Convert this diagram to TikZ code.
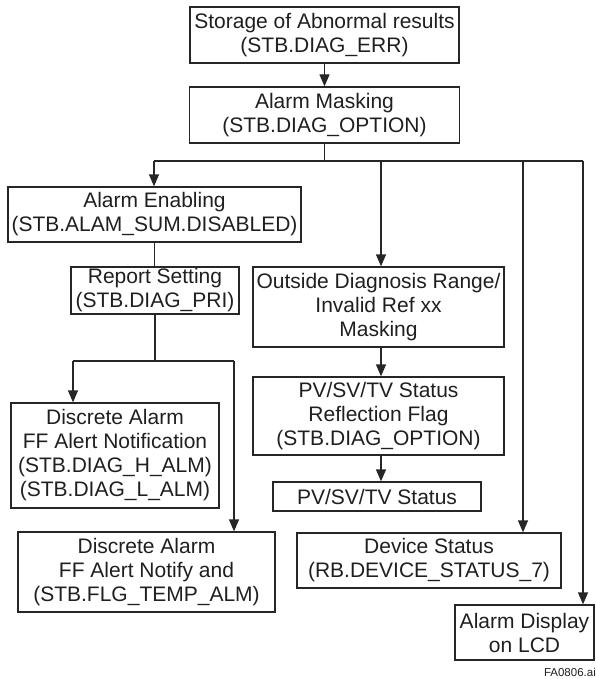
\documentclass[tikz,border=0pt]{standalone}
\usepackage{fontspec}
\setmainfont{Liberation Sans}
\usetikzlibrary{arrows.meta}

\tikzset{
  box/.style={draw=black!85,line width=1.3pt,text=black!88,inner sep=0pt,align=center,
    font=\fontsize{21}{24}\selectfont},
  link/.style={draw=black!85,line width=1.3pt}
}

\begin{document}
\begin{tikzpicture}[x=1pt,y=-1pt,>={Triangle[length=12pt,width=10pt]}]
  \useasboundingbox (0,0) rectangle (596,679);
  % upper chain
  \node[box,minimum width=269pt,minimum height=56pt] (store) at (324.5,35)
    {Storage of Abnormal results\\(STB.DIAG\_ERR)};
  \node[box,minimum width=270pt,minimum height=56pt] (mask) at (324.5,115)
    {Alarm Masking\\(STB.DIAG\_OPTION)};
  % left branch
  \node[box,minimum width=293pt,minimum height=55pt] (enable) at (154.5,214.5)
    {Alarm Enabling\\(STB.ALAM\_SUM.DISABLED)};
  \node[box,minimum width=168pt,minimum height=47pt] (report) at (155,290.5)
    {Report Setting\\(STB.DIAG\_PRI)};
  \node[box,minimum width=208pt,minimum height=105pt] (notif) at (115,455.5)
    {Discrete Alarm\\FF Alert Notification\\(STB.DIAG\_H\_ALM)\\(STB.DIAG\_L\_ALM)};
  \node[box,minimum width=257pt,minimum height=80pt] (notify) at (146.5,572)
    {Discrete Alarm\\FF Alert Notify and\\(STB.FLG\_TEMP\_ALM)};
  % middle branch
  \node[box,minimum width=251pt,minimum height=80pt] (range) at (378.5,307)
    {Outside Diagnosis Range/\\Invalid Ref xx\\Masking};
  \node[box,minimum width=251pt,minimum height=78pt] (reflect) at (378.5,416)
    {PV/SV/TV Status\\Reflection Flag\\(STB.DIAG\_OPTION)};
  \node[box,minimum width=208pt,minimum height=29pt] (pvstat) at (377,496.5)
    {PV/SV/TV Status};
  % right branches
  \node[box,minimum width=264pt,minimum height=55pt] (device) at (429,560.5)
    {Device Status\\(RB.DEVICE\_STATUS\_7)};
  \node[box,minimum width=139pt,minimum height=55pt] (lcd) at (524.5,632.5)
    {Alarm Display\\on LCD};
  \node[anchor=east,inner sep=0pt,text=black!88,font=\fontsize{11.5}{13}\selectfont] (tag) at (596,672)
    {FA0806.ai};

  \coordinate (busL) at (154,161);
  \coordinate (busR) at (583,161);
  \coordinate (tapM) at (381,161);
  \coordinate (tapD) at (523,161);
  \coordinate (forkL) at (73,361);
  \coordinate (forkR) at (234,361);

  \draw[link,->] (store) -- (mask);
  \draw[link] (mask.south) -- (mask.south |- busL);
  \draw[link] (busL) -- (busR);
  \draw[link,->] (busL) -- (busL |- enable.north);
  \draw[link,->] (tapM) -- (tapM |- range.north);
  \draw[link,->] (tapD) -- (tapD |- device.north);
  \draw[link,->] (busR) -- (busR |- lcd.north);

  \draw[link] (enable.south) -- (enable.south |- report.north);
  \draw[link] (report.south) -- (report.south |- forkL);
  \draw[link] (forkL) -- (forkR);
  \draw[link,->] (forkL) -- (forkL |- notif.north);
  \draw[link,->] (forkR) -- (forkR |- notify.north);

  \draw[link,->] (tapM |- range.south) -- (tapM |- reflect.north);
  \draw[link,->] (tapM |- reflect.south) -- (tapM |- pvstat.north);
\end{tikzpicture}
\end{document}
